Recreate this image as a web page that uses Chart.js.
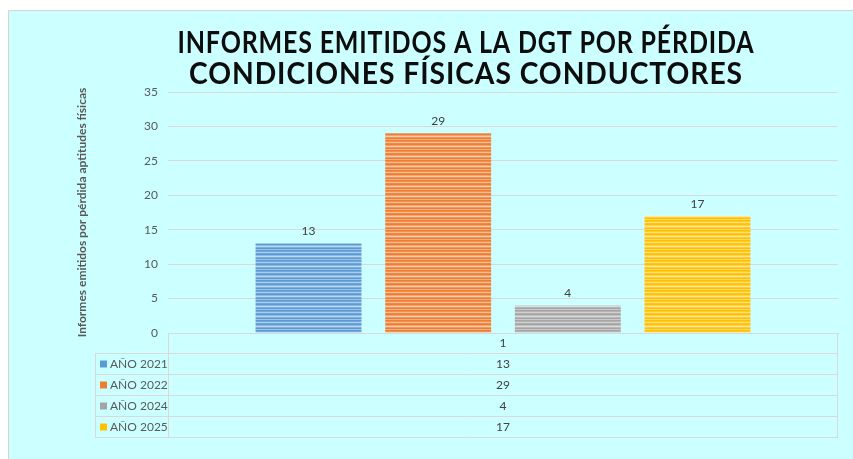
<!DOCTYPE html>
<html>
<head>
<meta charset="utf-8">
<script src="https://cdn.jsdelivr.net/npm/chart.js@4.4.0/dist/chart.umd.min.js"></script>
<style>
  html, body { margin: 0; padding: 0; background: #fff; overflow: hidden; }
  #wrap { position: absolute; left: 0; top: 0; width: 853px; height: 459px; }
</style>
</head>
<body>
<div id="wrap"><canvas id="chart"></canvas></div>
<script>
// ── Data ─────────────────────────────────────────────────────────────────────
const CATEGORIES = ["1"];
const SERIES_NAMES = ["AÑO 2021", "AÑO 2022", "AÑO 2024", "AÑO 2025"];
const SERIES_VALUES = [[13], [29], [4], [17]];
const SERIES_COLORS = ["#5b9bd5", "#ed7d31", "#a5a5a5", "#ffc000"];
const Y_MIN = 0;
const Y_MAX = 35;
const Y_STEP = 5;
const TITLE_LINES = ["INFORMES EMITIDOS A LA DGT POR PÉRDIDA", "CONDICIONES FÍSICAS CONDUCTORES"];
const Y_TITLE = "Informes emitidos por pérdida aptitudes físicas";

const FONT = "Lato, 'Open Sans', sans-serif";
const GRID = "#d9d9d9";
const TEXT = "#595959";

// ── Helpers ──────────────────────────────────────────────────────────────────
function mix(hex, amt) {
  const n = parseInt(hex.slice(1), 16);
  const r = (n >> 16) & 255, g = (n >> 8) & 255, b = n & 255;
  const m = (c) => Math.round(c + (255 - c) * amt);
  return `rgb(${m(r)},${m(g)},${m(b)})`;
}

// horizontal stripes like the office "narrow horizontal" fill
function stripes(color) {
  const c = document.createElement("canvas");
  c.width = 4; c.height = 10;
  const x = c.getContext("2d");
  const rows = [0, 0.15, 0.5, 0.1, 0, 0.3, 0.6, 0.2, 0, 0.4];
  rows.forEach((a, i) => { x.fillStyle = mix(color, a); x.fillRect(0, i, 4, 1); });
  return x.createPattern(c, "repeat");
}

// ── Plugins ──────────────────────────────────────────────────────────────────
const background = {
  id: "background",
  beforeDraw(chart) {
    const { ctx, width, height } = chart;
    ctx.save();
    ctx.fillStyle = "#fff";
    ctx.fillRect(0, 0, width, height);
    ctx.fillStyle = "#ccffff";
    ctx.fillRect(8, 10, width - 8, height - 10);
    ctx.strokeStyle = "#d4d4d4";
    ctx.lineWidth = 1;
    ctx.beginPath();
    ctx.moveTo(8.5, height); ctx.lineTo(8.5, 10.5); ctx.lineTo(width, 10.5);
    ctx.stroke();
    ctx.restore();
  },
};

// title lines squeezed horizontally to mimic the narrow bold face of the original
const TITLE_WIDTHS = [577, 554];
const TITLE_Y = [43, 74];
const titlePlugin = {
  id: "titleLines",
  afterDraw(chart) {
    const { ctx } = chart;
    TITLE_LINES.forEach((line, i) => {
      ctx.save();
      ctx.fillStyle = "#0d0d0d";
      ctx.font = `bold 30px ${FONT}`;
      ctx.letterSpacing = "1px";
      ctx.textAlign = "center";
      ctx.textBaseline = "middle";
      const sx = TITLE_WIDTHS[i] / ctx.measureText(line).width;
      ctx.translate(466, 0);
      ctx.scale(sx, 1);
      ctx.fillText(line, 0, TITLE_Y[i]);
      ctx.restore();
    });
  },
};

const valueLabels = {
  id: "valueLabels",
  afterDatasetsDraw(chart) {
    const { ctx } = chart;
    ctx.save();
    ctx.fillStyle = "#404040";
    ctx.font = `12px ${FONT}`;
    ctx.textAlign = "center";
    ctx.textBaseline = "bottom";
    chart.data.datasets.forEach((ds, i) => {
      chart.getDatasetMeta(i).data.forEach((bar, j) => {
        ctx.fillText(String(ds.data[j]), bar.x, bar.y - 6);
      });
    });
    ctx.restore();
  },
};

const dataTable = {
  id: "dataTable",
  afterDraw(chart) {
    const { ctx, chartArea } = chart;
    const xs = chart.scales.x;
    const top = chartArea.bottom + 20;
    const rowH = 21;
    const left = 95;
    const split = chartArea.left;
    const right = chartArea.right;
    const bottom = top + rowH * SERIES_NAMES.length;
    ctx.save();
    ctx.strokeStyle = GRID;
    ctx.lineWidth = 1;
    ctx.beginPath();
    ctx.moveTo(split + 0.5, chartArea.bottom); ctx.lineTo(split + 0.5, bottom);
    ctx.moveTo(right - 0.5, chartArea.bottom); ctx.lineTo(right - 0.5, bottom);
    ctx.moveTo(left + 0.5, top); ctx.lineTo(left + 0.5, bottom);
    for (let r = 0; r <= SERIES_NAMES.length; r++) {
      const y = Math.round(top + r * rowH) + 0.5;
      ctx.moveTo(left, y); ctx.lineTo(right, y);
    }
    ctx.stroke();

    ctx.font = `12px ${FONT}`;
    ctx.textBaseline = "middle";
    SERIES_NAMES.forEach((name, i) => {
      const cy = top + rowH * i + rowH / 2 + 1;
      ctx.fillStyle = SERIES_COLORS[i];
      ctx.fillRect(left + 5, cy - 4, 7, 7);
      ctx.fillStyle = TEXT;
      ctx.textAlign = "left";
      ctx.fillText(name, left + 15, cy);
      ctx.fillStyle = "#404040";
      ctx.textAlign = "center";
      CATEGORIES.forEach((c, j) => {
        ctx.fillText(String(SERIES_VALUES[i][j]), xs.getPixelForValue(j), cy);
      });
    });
    ctx.restore();
  },
};

// ── Chart ────────────────────────────────────────────────────────────────────
const ctx = document.getElementById("chart").getContext("2d");
new Chart(ctx, {
  type: "bar",
  data: {
    labels: CATEGORIES,
    datasets: SERIES_NAMES.map((name, i) => ({
      label: name,
      data: SERIES_VALUES[i],
      backgroundColor: stripes(SERIES_COLORS[i]),
      borderWidth: 0,
      categoryPercentage: 0.774,
      barPercentage: 0.817,
    })),
  },
  options: {
    responsive: true,
    maintainAspectRatio: false,
    animation: false,
    events: [],
    layout: { padding: { top: 92, left: 70, right: 15, bottom: 22 } },
    plugins: {
      legend: { display: false },
      tooltip: { enabled: false },
      title: { display: false },
    },
    scales: {
      x: {
        grid: { display: false, drawTicks: false },
        border: { display: true, color: GRID },
        ticks: { color: "#404040", font: { family: FONT, size: 12 }, padding: 3 },
        afterFit: (s) => { s.height = 104; },
      },
      y: {
        min: Y_MIN,
        max: Y_MAX,
        ticks: { stepSize: Y_STEP, color: TEXT, font: { family: FONT, size: 12 }, padding: 10 },
        grid: { color: GRID, drawTicks: false },
        border: { display: false },
        title: {
          display: true,
          text: Y_TITLE,
          color: TEXT,
          font: { family: FONT, size: 12, weight: "bold" },
          padding: { top: 5, bottom: 0 },
        },
        afterFit: (s) => { s.width = 98; },
      },
    },
  },
  plugins: [background, titlePlugin, valueLabels, dataTable],
});
</script>
</body>
</html>
